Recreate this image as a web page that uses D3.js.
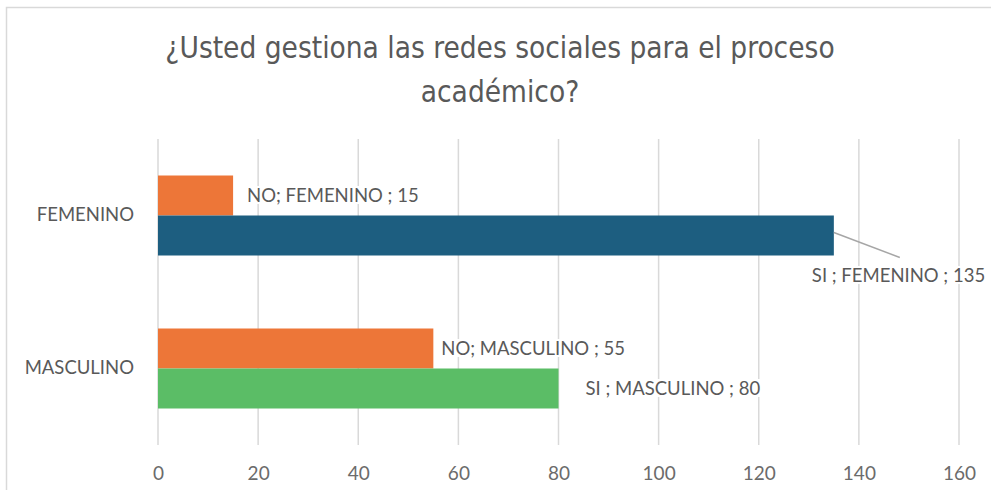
<!DOCTYPE html>
<html>
<head>
<meta charset="utf-8">
<script src="https://cdn.jsdelivr.net/npm/d3@7"></script>
<style>
  body { margin: 0; background: #fff; }
  text { fill: #595959; }
</style>
</head>
<body>
<div class="chart-container"></div>
<script>
var width = 991;
var height = 490;
var categories = ["FEMENINO", "MASCULINO"];
var seriesNames = ["NO", "SI"];
var noValues = [15, 55];
var siValues = [135, 80];
var xTicks = [0, 20, 40, 60, 80, 100, 120, 140, 160];
var titleLines = ["¿Usted gestiona las redes sociales para el proceso", "académico?"];

var plot = { left: 158, right: 959, top: 139, bottom: 445 };
var barHeight = 40;
var colorNo = "#ED7638";
var colorSi = ["#1D5E80", "#5BBD66"];
var labelFont = "Lato, sans-serif";

var svg = d3
  .select(".chart-container")
  .append("svg")
  .attr("width", width)
  .attr("height", height);

// outer frame of the chart
svg.append("rect")
  .attr("x", 6.5)
  .attr("y", 7.5)
  .attr("width", width + 10)
  .attr("height", height + 10)
  .style("fill", "none")
  .style("stroke", "#d9d9d9")
  .style("stroke-width", 1.5);

svg.append("g")
  .selectAll("text")
  .data(titleLines)
  .enter()
  .append("text")
  .attr("x", 500)
  .attr("y", function (d, i) { return 58 + i * 44; })
  .attr("text-anchor", "middle")
  .style("font-family", "'Liberation Sans Narrow', 'DejaVu Sans Condensed', sans-serif")
  .style("font-size", "29.5px")
  .text(function (d) { return d; });

var x = d3.scaleLinear().domain([0, 160]).range([plot.left, plot.right]);
var y = d3.scaleBand().domain(categories).range([plot.top, plot.bottom]);
var ySub = d3.scaleBand()
  .domain(seriesNames)
  .range([y.bandwidth() / 2 - barHeight, y.bandwidth() / 2 + barHeight]);

// gridlines
svg.append("g")
  .selectAll("line")
  .data(xTicks)
  .enter()
  .append("line")
  .attr("x1", function (d) { return x(d); })
  .attr("x2", function (d) { return x(d); })
  .attr("y1", plot.top)
  .attr("y2", plot.bottom)
  .style("stroke", "#d9d9d9")
  .style("stroke-width", 1.5);

// x axis labels
var xAxis = d3.axisBottom(x).tickValues(xTicks).tickSize(0).tickPadding(0);
var gx = svg.append("g")
  .attr("transform", "translate(0," + 480 + ")")
  .call(xAxis);
gx.select(".domain").remove();
gx.selectAll("text")
  .attr("dy", 0)
  .style("font-family", labelFont)
  .style("font-size", "19px")
  .style("fill", "#6b6b6b");

// category labels
var yAxis = d3.axisLeft(y).tickSize(0).tickPadding(24);
var gy = svg.append("g")
  .attr("transform", "translate(" + plot.left + ",0)")
  .call(yAxis);
gy.select(".domain").remove();
gy.selectAll("text")
  .style("font-family", labelFont)
  .style("font-size", "18.5px")
  .style("fill", "#595959");

var rows = categories.map(function (c, i) {
  return [
    { cat: c, series: "NO", value: noValues[i], color: colorNo },
    { cat: c, series: "SI", value: siValues[i], color: colorSi[i] }
  ];
});
var bars = [].concat.apply([], rows);

svg.append("g")
  .selectAll("rect")
  .data(bars)
  .enter()
  .append("rect")
  .attr("x", x(0))
  .attr("y", function (d) { return y(d.cat) + ySub(d.series); })
  .attr("width", function (d) { return x(d.value) - x(0); })
  .attr("height", ySub.bandwidth())
  .style("fill", function (d) { return d.color; });

// label offsets from bar end (dx, dy from bar middle)
var labelOffsets = {
  "NO-FEMENINO": [14, 0],
  "SI-FEMENINO": [-22, 40],
  "NO-MASCULINO": [8, 0],
  "SI-MASCULINO": [27, 0]
};
const off = (d) => labelOffsets[d.series + "-" + d.cat];
const barMid = (d) => y(d.cat) + ySub(d.series) + ySub.bandwidth() / 2;

var labels = svg.append("g")
  .selectAll("g")
  .data(bars)
  .enter()
  .append("g");

// leader line for the moved label
labels.filter(function (d) { return off(d)[1] != 0; })
  .append("line")
  .attr("x1", function (d) { return x(d.value); })
  .attr("y1", function (d) { return barMid(d) - 3; })
  .attr("x2", function (d) { return x(d.value) + 66; })
  .attr("y2", function (d) { return barMid(d) + 22; })
  .style("stroke", "#a6a6a6")
  .style("stroke-width", 1.5);

var bg = labels.append("rect").style("fill", "#fff");

var txt = labels.append("text")
  .attr("x", function (d) { return x(d.value) + off(d)[0]; })
  .attr("y", function (d) { return barMid(d) + off(d)[1]; })
  .attr("dy", "0.35em")
  .style("font-family", labelFont)
  .style("font-size", "18.5px")
  .text(function (d) {
    var sep = d.series == "NO" ? "; " : " ; ";
    return d.series + sep + d.cat + " ; " + d.value;
  });

// white box behind each label so gridlines stop at the text
txt.each(function () {
  var b = this.getBBox();
  d3.select(this.previousSibling)
    .attr("x", b.x - 2)
    .attr("y", b.y + 2)
    .attr("width", b.width + 4)
    .attr("height", b.height - 4);
});
</script>
</body>
</html>
